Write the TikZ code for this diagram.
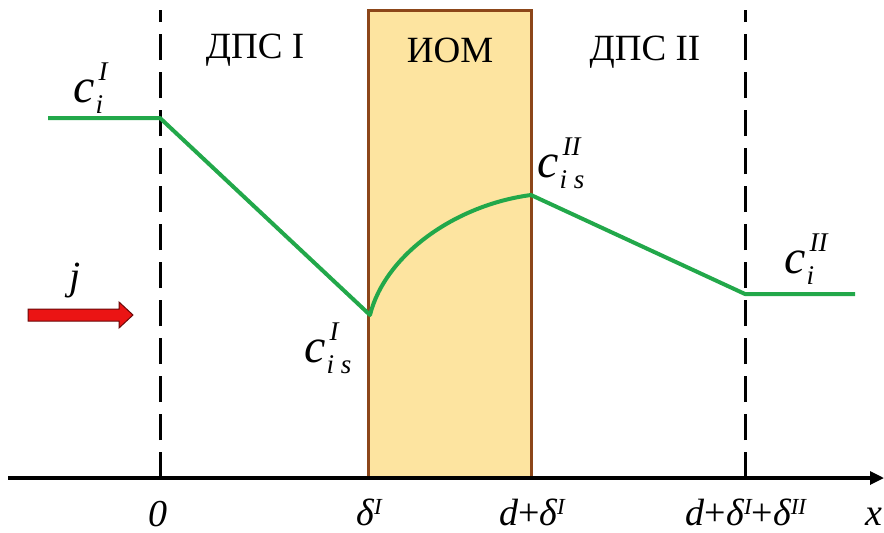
\documentclass[tikz,border=0pt]{standalone}
\usepackage{amsmath}
\usepackage{fontspec}
\setmainfont{Liberation Serif}
\usetikzlibrary{arrows.meta}
\definecolor{lgreen}{RGB}{34,168,74}
\definecolor{boxfill}{RGB}{253,228,160}
\definecolor{boxedge}{RGB}{140,70,25}
\definecolor{arrred}{RGB}{235,20,20}
\newsavebox\supbox
\newsavebox\subbox
\newcommand\scrfnt{\fontsize{27}{29}\selectfont\itshape}
% concentration symbol: c with superscript #1 and subscript #2
\newcommand\concsym[2]{\textit{c}\sbox\supbox{\kern4pt\raisebox{0.44em}{\scrfnt #1}}%
  \sbox\subbox{\kern1pt\raisebox{-0.24em}{\scrfnt #2}}%
  \rlap{\usebox\supbox}\rlap{\usebox\subbox}%
  \ifdim\wd\supbox>\wd\subbox\hspace{\wd\supbox}\else\hspace{\wd\subbox}\fi}
% axis superscript
\newcommand\axsup[1]{\raisebox{0.27em}{\fontsize{23}{25}\selectfont\itshape #1}}
\newcommand\plus{{\upshape +}}
\tikzset{
  region/.style={font=\fontsize{37}{40}\selectfont, inner sep=0pt},
  conc/.style={font=\fontsize{48}{52}\selectfont\itshape, inner sep=0pt, anchor=base west},
  axlab/.style={font=\fontsize{38}{42}\selectfont\itshape, inner sep=0pt, anchor=base},
  dashline/.style={line width=3pt, dash pattern=on 26pt off 12pt},
  profile/.style={draw=lgreen, line width=4pt, line join=round},
  membrane/.style={draw=boxedge, fill=boxfill, line width=3pt},
  axis/.style={line width=3.2pt, -{Triangle[length=14pt,width=13pt]}},
  flux/.style={fill=arrred, draw=arrred!45!black, line width=1pt, line join=miter},
}
\begin{document}
\begin{tikzpicture}[x=1pt,y=-1pt]
\useasboundingbox (0,0) rectangle (884,533);
% membrane box
\draw[membrane] (368,10) rectangle (531,478);
% dashed boundaries
\coordinate (d0t) at (160,10);
\coordinate (d0b) at (160,478);
\coordinate (d1t) at (745,10);
\coordinate (d1b) at (745,478);
\draw[dashline] (d0b) -- (d0t);
\draw[dashline] (d1b) -- (d1t);
% axis
\coordinate (ax0) at (8,478);
\coordinate (ax1) at (884,478);
\draw[axis] (ax0) -- (ax1);
% profile
\coordinate (p0) at (48,118);
\coordinate (p1) at (160,118);
\coordinate (p2) at (370,315);
\coordinate (p3) at (531,195);
\coordinate (p4) at (745,294);
\coordinate (p5) at (855,294);
\draw[profile] (p0) -- (p1) -- (p2) .. controls (385,255) and (455,205) .. (p3) -- (p4) -- (p5);
% region labels
\node[region] (r1) at (255,50) {ДПС I};
\node[region] (r2) at (450,50) {ИОМ};
\node[region] (r3) at (645,52) {ДПС II};
% concentration labels
\node[conc] (c1) at (73,102) {\concsym{I}{i}};
\node[conc] (c2) at (304,362) {\concsym{I}{i s}};
\node[conc] (c3) at (537,177) {\concsym{II}{i s}};
\node[conc] (c4) at (784,273) {\concsym{II}{i}};
% flux
\node[font=\fontsize{40}{44}\selectfont\itshape, inner sep=0pt] (jl) at (75,281) {j};
\draw[flux] (28,309) -- (119,309) -- (119,302) -- (133,315) -- (119,328) -- (119,321) -- (28,321) -- cycle;
% axis labels
\node[axlab] (x0) at (158,526) {0};
\node[axlab] (x1) at (369,525) {δ\axsup{I}};
\node[axlab] (x2) at (532,525) {d\plus δ\axsup{I}};
\node[axlab] (x3) at (746,525) {d\plus δ\axsup{I}\plus δ\axsup{II}};
\node[axlab] (x4) at (874,525) {x};
\end{tikzpicture}
\end{document}
